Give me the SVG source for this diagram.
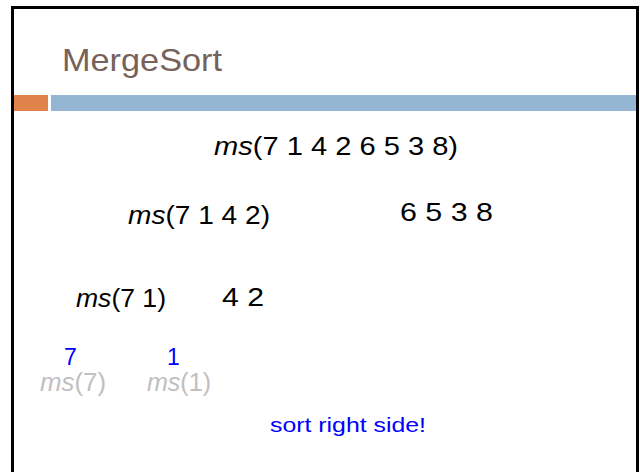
<svg xmlns="http://www.w3.org/2000/svg" width="640" height="472" viewBox="0 0 640 472">
<style>
text{font-family:"Liberation Sans",Arial,sans-serif;}
.t{font-size:26px;fill:#000;}
.i{font-style:italic;}
.b{fill:#0000ff;font-size:23px;}
.g{fill:#c0c0c0;font-size:25px;}
</style>
<rect x="0" y="0" width="640" height="472" fill="#fff"/>
<g id="frame">
<path d="M12.5 480 V7.5 H637.5 V480" fill="none" stroke="#000" stroke-width="3"/>
</g>
<g id="header">
<rect x="14" y="95" width="34" height="16" fill="#e0834a"/>
<rect x="51" y="95" width="585" height="16" fill="#94b6d2"/>
<text x="62" y="71" font-size="32" fill="#76625a" textLength="160" lengthAdjust="spacingAndGlyphs">MergeSort</text>
</g>
<g id="n1"><text class="t" x="214" y="155" textLength="244" lengthAdjust="spacingAndGlyphs"><tspan class="i">ms</tspan>(7 1 4 2 6 5 3 8)</text></g>
<g id="n2"><text class="t" x="128" y="224" textLength="142" lengthAdjust="spacingAndGlyphs"><tspan class="i">ms</tspan>(7 1 4 2)</text></g>
<g id="n3"><text class="t" x="400" y="221" textLength="93" lengthAdjust="spacingAndGlyphs">6 5 3 8</text></g>
<g id="n4"><text class="t" x="76" y="307" textLength="90" lengthAdjust="spacingAndGlyphs"><tspan class="i">ms</tspan>(7 1)</text></g>
<g id="n5"><text class="t" x="222" y="306" textLength="42" lengthAdjust="spacingAndGlyphs">4 2</text></g>
<g id="n6"><text class="g" x="40" y="391" textLength="66" lengthAdjust="spacingAndGlyphs"><tspan class="i">ms</tspan>(7)</text>
<text class="b" x="64" y="365">7</text></g>
<g id="n7"><text class="g" x="147" y="391" textLength="64" lengthAdjust="spacingAndGlyphs"><tspan class="i">ms</tspan>(1)</text>
<text class="b" x="167" y="365">1</text></g>
<g id="note"><text x="270" y="432" font-size="21" fill="#0000ff" textLength="156" lengthAdjust="spacingAndGlyphs">sort right side!</text></g>
</svg>
